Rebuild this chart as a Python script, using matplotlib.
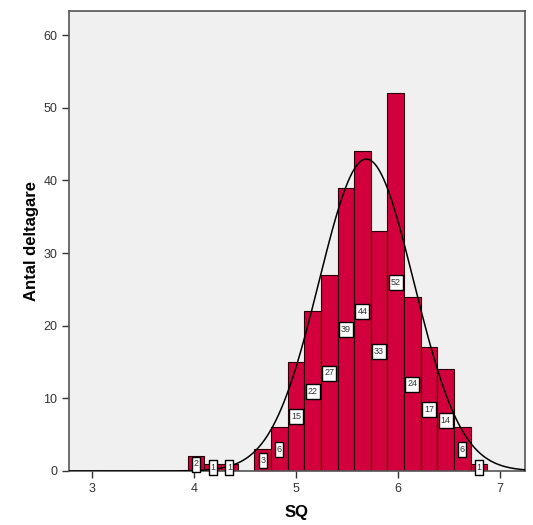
import numpy as np
import matplotlib
matplotlib.use("Agg")
import matplotlib.pyplot as plt
from matplotlib.path import Path

plt.rcParams['font.family'] = ['Liberation Sans', 'DejaVu Sans']

# ===== data =====
bin_start = 3.94      # left edge of first bin
bin_width = 0.163
counts = [2, 1, 1, 0, 3, 6, 15, 22, 27, 39, 44, 33, 52, 24, 17, 14, 6, 1]
mu = 5.69             # normal curve mean
sigma = 0.465         # normal curve std

x_ticks = [3, 4, 5, 6, 7]
y_ticks = [0, 10, 20, 30, 40, 50, 60]

bar_color = "#D2003C"

fig = plt.figure(figsize=(5.33, 5.25), dpi=100)
ax = fig.add_axes([0.1295, 0.1029, 0.8555, 0.876])
ax.set_facecolor("#F0F0F0")

lefts = bin_start + bin_width * np.arange(len(counts))
ax.bar(lefts, counts, width=bin_width, align="edge",
       color=bar_color, edgecolor="#2a0008", linewidth=0.8, zorder=2)

# normal curve
n_total = sum(counts)
xs = np.linspace(2.775, 7.245, 500)
ys = n_total * bin_width / (sigma * np.sqrt(2 * np.pi)) * np.exp(-0.5 * ((xs - mu) / sigma) ** 2)
ax.plot(xs, ys, color="black", linewidth=1.1, zorder=3)

# label boxes: taller than wide (SPSS style)
def box_marker(half_w):
    return Path([(-half_w, -0.5), (half_w, -0.5), (half_w, 0.5), (-half_w, 0.5), (-half_w, -0.5)],
                [Path.MOVETO, Path.LINETO, Path.LINETO, Path.LINETO, Path.CLOSEPOLY])

for left, c in zip(lefts, counts):
    if c == 0:
        continue
    cx = left + bin_width / 2
    hw = 0.29 if c < 10 else 0.44
    ax.plot([cx], [c / 2], marker=box_marker(hw), markersize=10.8,
            markerfacecolor="white", markeredgecolor="black",
            markeredgewidth=1.0, linestyle="None", zorder=4, clip_on=False)
    ax.text(cx, c / 2, str(c), ha="center", va="center",
            fontsize=6.5, color="#333333", zorder=5)

ax.set_xlim(2.775, 7.245)
ax.set_ylim(0, 63.3)
ax.set_xticks(x_ticks)
ax.set_yticks(y_ticks)
ax.tick_params(axis="both", direction="out", length=5, width=1.0,
               labelsize=9, colors="#333333", labelcolor="#333333")

for side in ["left", "top", "right", "bottom"]:
    ax.spines[side].set_color("#555555")
    ax.spines[side].set_linewidth(1.2)

ax.set_xlabel("SQ", fontsize=12, fontweight="bold", labelpad=7)
ax.set_ylabel("Antal deltagare", fontsize=12, fontweight="bold", labelpad=3)

fig.savefig("out.png", dpi=100)
